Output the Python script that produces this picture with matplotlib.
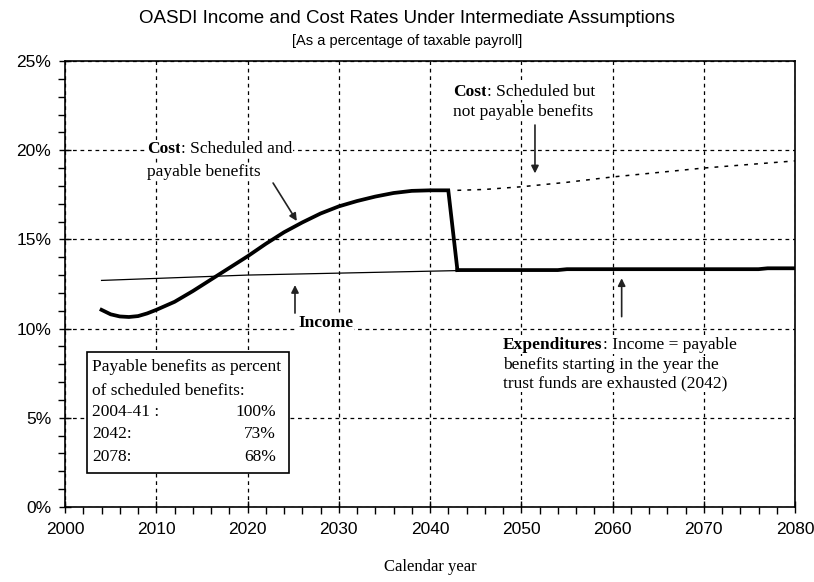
import matplotlib
matplotlib.use('Agg')
import matplotlib.pyplot as plt
from matplotlib.ticker import MultipleLocator, FuncFormatter
from matplotlib.patches import Rectangle

# values (percent of taxable payroll)
cost_years = [2004, 2005, 2006, 2007, 2008, 2009, 2010, 2012, 2014, 2016,
              2018, 2020, 2022, 2024, 2026, 2028, 2030, 2032, 2034, 2036,
              2038, 2040, 2042, 2043]
cost_rate = [11.05, 10.8, 10.68, 10.65, 10.7, 10.85, 11.05, 11.5, 12.1, 12.75,
             13.4, 14.05, 14.75, 15.4, 15.95, 16.45, 16.85, 17.15, 17.4, 17.6,
             17.72, 17.75, 17.75, 13.28]

exp_years = [2043, 2054, 2055, 2076, 2077, 2080]
exp_rate = [13.28, 13.28, 13.33, 13.33, 13.38, 13.38]

income_years = [2004, 2020, 2043, 2060, 2080]
income_rate = [12.7, 13.0, 13.25, 13.3, 13.38]

sched_years = [2043, 2046, 2050, 2055, 2060, 2065, 2070, 2075, 2080]
sched_rate = [17.75, 17.8, 17.95, 18.2, 18.5, 18.75, 19.0, 19.2, 19.4]

box_rows = ['2004-41 :', '2042:', '2078:']
box_pcts = ['100%', '73%', '68%']

NARROW = ['Liberation Sans Narrow', 'Liberation Sans', 'DejaVu Sans']
SERIF = ['Liberation Serif', 'DejaVu Serif']
FS = 12.5


def label_pair(ax, x, y, bold, rest, size=FS):
    t1 = ax.text(x, y, bold, family=SERIF, fontweight='bold', fontsize=size,
                 va='center', ha='left',
                 bbox=dict(facecolor='white', edgecolor='none', pad=0.5))
    ax.annotate(rest, xy=(1, 0), xycoords=t1, va='bottom', ha='left',
                family=SERIF, fontsize=size,
                bbox=dict(facecolor='white', edgecolor='none', pad=0.5))


def plain(ax, x, y, s, size=FS, ha='left', weight='normal'):
    ax.text(x, y, s, family=SERIF, fontsize=size, va='center', ha=ha,
            fontweight=weight,
            bbox=dict(facecolor='white', edgecolor='none', pad=0.5))


def arrow(ax, start, end):
    ax.annotate('', xy=end, xytext=start,
                arrowprops=dict(arrowstyle='-|>', color='#222222', lw=1.2,
                                mutation_scale=11, shrinkA=0, shrinkB=0))


def main():
    fig = plt.figure(figsize=(8.14, 5.82), dpi=100)
    ax = fig.add_axes([0.0799, 0.1289, 0.8968, 0.7663])

    ax.plot(income_years, income_rate, color='black', linewidth=0.9)
    ax.plot(sched_years, sched_rate, color='black', linewidth=1.1,
            linestyle=(0, (2.5, 4)))
    ax.plot(cost_years, cost_rate, color='black', linewidth=2.7,
            solid_joinstyle='miter')
    ax.plot(exp_years, exp_rate, color='black', linewidth=2.7)

    ax.set_xlim(2000, 2080)
    ax.set_ylim(0, 25)
    ax.xaxis.set_major_locator(MultipleLocator(10))
    ax.xaxis.set_minor_locator(MultipleLocator(2))
    ax.yaxis.set_major_locator(MultipleLocator(5))
    ax.yaxis.set_minor_locator(MultipleLocator(1))
    ax.yaxis.set_major_formatter(FuncFormatter(lambda v, p: '%d%%' % v))
    ax.tick_params(which='major', direction='inout', length=8, width=1,
                   labelsize=12.5, pad=6)
    ax.tick_params(which='minor', direction='out', length=5, width=1)
    for lab in ax.get_xticklabels() + ax.get_yticklabels():
        lab.set_family(NARROW)
    ax.tick_params(axis='x', pad=7)
    for s in ax.spines.values():
        s.set_linewidth(1.2)
    ax.grid(True, which='major', color='black', linestyle=(0, (3, 3)),
            linewidth=0.9)
    ax.set_axisbelow(True)

    ax.set_xlabel('Calendar year', family=SERIF, fontsize=12, labelpad=16)
    fig.text(0.5, 0.968, 'OASDI Income and Cost Rates Under Intermediate Assumptions',
             ha='center', va='center', family=NARROW, fontsize=13.5)
    fig.text(0.5, 0.930, '[As a percentage of taxable payroll]',
             ha='center', va='center', family=NARROW, fontsize=10.5)

    # annotations
    label_pair(ax, 2009.0, 20.07, 'Cost', ': Scheduled and')
    plain(ax, 2009.0, 18.8, 'payable benefits')
    arrow(ax, (2022.8, 18.16), (2025.4, 16.03))

    plain(ax, 2025.6, 10.3, 'Income', weight='bold')
    arrow(ax, (2025.2, 10.87), (2025.2, 12.44))

    label_pair(ax, 2042.55, 23.28, 'Cost', ': Scheduled but')
    plain(ax, 2042.5, 22.16, 'not payable benefits')
    arrow(ax, (2051.5, 21.41), (2051.5, 18.7))

    label_pair(ax, 2048.0, 9.08, 'Expenditures', ': Income = payable')
    plain(ax, 2048.0, 7.96, 'benefits starting in the year the')
    plain(ax, 2048.0, 6.93, 'trust funds are exhausted (2042)')
    arrow(ax, (2061.0, 10.67), (2061.0, 12.82))

    # payable benefits box
    ax.add_patch(Rectangle((2002.4, 1.91), 22.1, 6.78, facecolor='white',
                           edgecolor='black', linewidth=1.2, zorder=5))
    ax.text(2002.95, 7.85, 'Payable benefits as percent', family=SERIF,
            fontsize=FS, va='center', zorder=6)
    ax.text(2002.95, 6.5, 'of scheduled benefits:', family=SERIF,
            fontsize=FS, va='center', zorder=6)
    row_y = [5.33, 4.1, 2.8]
    for i in range(len(box_rows)):
        ax.text(2002.95, row_y[i], box_rows[i], family=SERIF, fontsize=FS,
                va='center', zorder=6)
        ax.text(2023.1, row_y[i], box_pcts[i], family=SERIF, fontsize=FS,
                va='center', ha='right', zorder=6)

    fig.savefig('out.png', dpi=100)


if __name__ == '__main__':
    main()
